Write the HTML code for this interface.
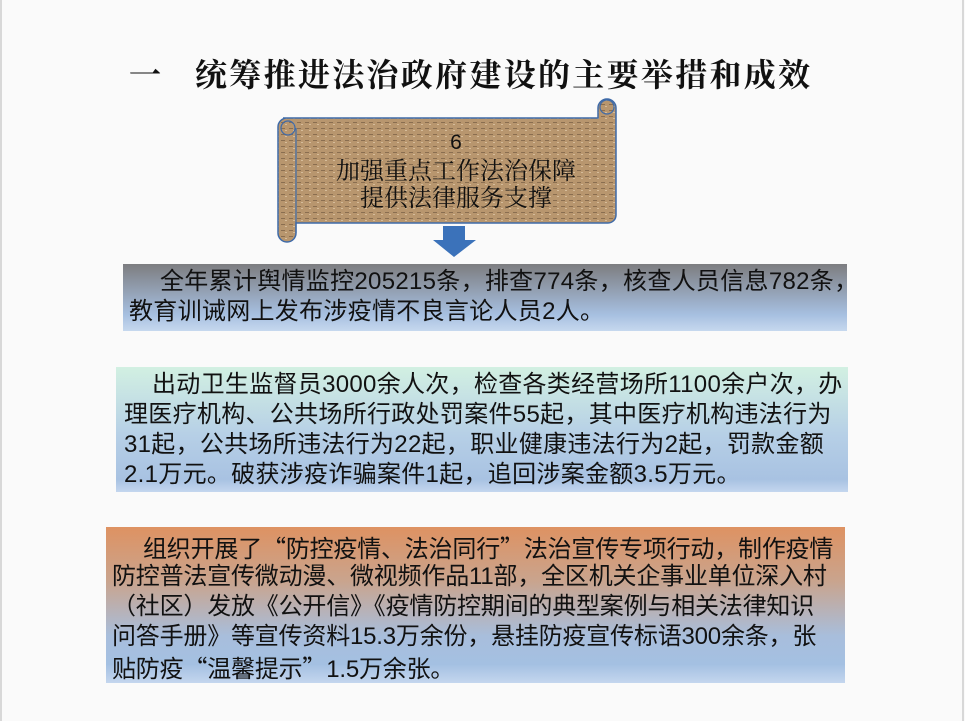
<!DOCTYPE html>
<html><head><meta charset="utf-8"><style>
body{margin:0;width:965px;height:721px;background:#fafafa;position:relative;overflow:hidden;font-family:"Liberation Sans","Noto Sans CJK SC",sans-serif}
.edge{position:absolute;top:0;bottom:0;width:2px;background:#d8d8d8}
.t{position:absolute;top:52px;font-family:"Liberation Serif","Noto Serif CJK SC",serif;font-weight:bold;font-size:32px;color:#111;white-space:nowrap;line-height:46px}
.box{position:absolute;color:#111;font-size:24px;letter-spacing:0.3px;white-space:nowrap}
.box div{height:30px;line-height:30px}
.q{font-family:"Noto Sans CJK SC",sans-serif}
</style></head><body>
<div class="edge" style="left:0"></div><div class="edge" style="left:962px"></div>
<div class="t" style="left:129px">一</div>
<div class="t" style="left:195px;letter-spacing:2.3px">统筹推进法治政府建设的主要举措和成效</div>

<svg style="position:absolute;left:0;top:0" width="965" height="721">
<defs><pattern id="p" width="8" height="6" patternUnits="userSpaceOnUse"><rect width="8" height="6" fill="#b8966e"/><rect x="1" y="2" width="4" height="1" fill="#8a6e50"/><rect x="5" y="4" width="2" height="1" fill="#d6bc9a"/></pattern></defs>
<path d="M283 118 H598 V108 a9 9 0 0 1 18 0 V215 a8 8 0 0 1 -8 8 H296 V233 a9 9 0 0 1 -18 0 V127 a9 9 0 0 1 9 -9 Z" fill="url(#p)" stroke="#3e6aa8" stroke-width="1.5"/>
<circle cx="288" cy="128" r="7" fill="none" stroke="#3e6aa8" stroke-width="1.2"/>
<circle cx="607" cy="107" r="7" fill="none" stroke="#3e6aa8" stroke-width="1.2"/>
<line x1="296" y1="128" x2="296" y2="233" stroke="#3e6aa8" stroke-width="1.2"/>
<text x="456" y="149" font-family="Liberation Sans" font-size="21" text-anchor="middle" fill="#111">6</text>
<text x="456" y="179" font-family="Noto Serif CJK SC,serif" font-size="24" text-anchor="middle" fill="#111">加强重点工作法治保障</text>
<text x="456" y="206" font-family="Noto Serif CJK SC,serif" font-size="24" text-anchor="middle" fill="#111">提供法律服务支撑</text>
<path d="M443 226 H465 V240 H476 L454 257 L433 240 H443 Z" fill="#3b72ba"/>
</svg>

<div class="box" style="left:123px;top:264px;width:724px;height:67px;background:linear-gradient(#7d7d80,#a6bfe0 75%,#c6d8ee)">
<div style="padding-left:37px;margin-top:3px">全年累计舆情监控205215条，排查774条，核查人员信息782条，</div>
<div style="padding-left:6px">教育训诫网上发布涉疫情不良言论人员2人。</div></div>

<div class="box" style="left:116px;top:367px;width:732px;height:125px;background:linear-gradient(#d2f0e2,#b6cfe6 55%,#a8c2e2 90%,#c4d6ee)">
<div style="padding-left:36px;margin-top:3px">出动卫生监督员3000余人次，检查各类经营场所1100余户次，办</div>
<div style="padding-left:8px">理医疗机构、公共场所行政处罚案件55起，其中医疗机构违法行为</div>
<div style="padding-left:8px">31起，公共场所违法行为22起，职业健康违法行为2起，罚款金额</div>
<div style="padding-left:8px">2.1万元。破获涉疫诈骗案件1起，追回涉案金额3.5万元。</div></div>

<div class="box" style="left:106px;top:527px;width:739px;height:156px;letter-spacing:-0.2px;background:linear-gradient(#de9262,#c9a48e 35%,#a8bedc 70%,#a4c0e2 88%,#c4d6ee)">
<div style="padding-left:37px;margin-top:5px">组织开展了<span class="q">“</span>防控疫情、法治同行<span class="q">”</span>法治宣传专项行动，制作疫情</div>
<div style="padding-left:6px">防控普法宣传微动漫、微视频作品11部，全区机关企事业单位深入村</div>
<div style="padding-left:6px">（社区）发放《公开信》《疫情防控期间的典型案例与相关法律知识</div>
<div style="padding-left:6px">问答手册》等宣传资料15.3万余份，悬挂防疫宣传标语300余条，张</div>
<div style="padding-left:6px">贴防疫<span class="q">“</span>温馨提示<span class="q">”</span>1.5万余张。</div></div>
</body></html>
